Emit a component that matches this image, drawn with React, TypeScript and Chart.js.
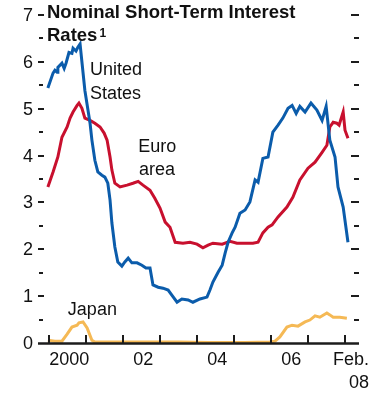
import { useEffect, useRef } from 'react';
import { Chart, registerables } from 'chart.js';

Chart.register(...registerables);

// ---- Data (decimal years, percent) ----
const usYears = [
  1999.97, 2000.11, 2000.16, 2000.22, 2000.24, 2000.35, 2000.41, 2000.46, 2000.54, 2000.62,
  2000.65, 2000.73, 2000.78, 2000.84, 2000.97, 2001.11, 2001.16, 2001.24, 2001.32, 2001.43,
  2001.51, 2001.59, 2001.65, 2001.70, 2001.78, 2001.86, 2001.97, 2002.05, 2002.14, 2002.24,
  2002.38, 2002.51, 2002.62, 2002.73, 2002.81, 2002.95, 2003.08, 2003.22, 2003.32, 2003.46,
  2003.59, 2003.76, 2003.89, 2004.08, 2004.27, 2004.35, 2004.43, 2004.57, 2004.68, 2004.76,
  2004.84, 2004.95, 2005.03, 2005.16, 2005.30, 2005.43, 2005.57, 2005.65, 2005.78, 2005.92,
  2006.05, 2006.19, 2006.32, 2006.46, 2006.57, 2006.68, 2006.78, 2006.92, 2007.08, 2007.24,
  2007.38, 2007.49, 2007.59, 2007.73, 2007.81, 2007.95, 2008.08,
];
const usRates = [
  5.44, 5.76, 5.82, 5.78, 5.88, 5.97, 5.86, 5.97, 6.20, 6.18,
  6.29, 6.23, 6.31, 6.38, 5.39, 4.69, 4.33, 3.90, 3.65, 3.58,
  3.54, 3.41, 3.05, 2.56, 2.05, 1.73, 1.64, 1.73, 1.81, 1.71,
  1.71, 1.66, 1.60, 1.60, 1.24, 1.19, 1.17, 1.13, 1.02, 0.87,
  0.94, 0.92, 0.87, 0.94, 0.98, 1.13, 1.30, 1.51, 1.66, 1.92,
  2.15, 2.35, 2.47, 2.77, 2.84, 3.01, 3.48, 3.43, 3.94, 3.97,
  4.50, 4.65, 4.80, 5.01, 5.07, 4.90, 5.05, 4.93, 5.12, 4.97,
  4.75, 5.05, 4.33, 3.97, 3.33, 2.90, 2.15,
];

const euroYears = [
  1999.97, 2000.11, 2000.24, 2000.35, 2000.49, 2000.57, 2000.65, 2000.76, 2000.81, 2000.89,
  2000.97, 2001.11, 2001.24, 2001.38, 2001.49, 2001.57, 2001.65, 2001.70, 2001.78, 2001.92,
  2002.11, 2002.27, 2002.41, 2002.54, 2002.73, 2002.86, 2003.00, 2003.14, 2003.27, 2003.41,
  2003.62, 2003.81, 2004.00, 2004.16, 2004.30, 2004.43, 2004.68, 2004.89, 2005.08, 2005.35,
  2005.51, 2005.65, 2005.78, 2005.92, 2006.03, 2006.19, 2006.43, 2006.59, 2006.78, 2007.00,
  2007.19, 2007.38, 2007.51, 2007.59, 2007.68, 2007.78, 2007.84, 2007.95, 2008.00, 2008.08,
];
const euroRates = [
  3.33, 3.65, 3.97, 4.39, 4.61, 4.80, 4.93, 5.07, 5.12, 5.01,
  4.80, 4.75, 4.69, 4.61, 4.48, 4.33, 3.97, 3.69, 3.41, 3.33,
  3.37, 3.41, 3.45, 3.37, 3.26, 3.09, 2.88, 2.58, 2.47, 2.15,
  2.13, 2.15, 2.11, 2.03, 2.09, 2.13, 2.11, 2.17, 2.13, 2.13,
  2.13, 2.15, 2.35, 2.47, 2.52, 2.69, 2.90, 3.11, 3.48, 3.73,
  3.86, 4.07, 4.22, 4.61, 4.71, 4.69, 4.65, 4.93, 4.54, 4.37,
];

const japanYears = [
  1999.97, 2000.16, 2000.35, 2000.49, 2000.62, 2000.76, 2000.81, 2000.92, 2001.03, 2001.16,
  2001.24, 2001.92, 2002.73, 2003.50, 2004.30, 2005.30, 2005.97, 2006.11, 2006.24, 2006.43,
  2006.57, 2006.73, 2006.92, 2007.05, 2007.19, 2007.32, 2007.51, 2007.59, 2007.68, 2007.86,
  2008.05,
];
const japanRates = [
  0.06, 0.04, 0.04, 0.19, 0.34, 0.38, 0.43, 0.45, 0.32, 0.06,
  0.02, 0.02, 0.02, 0.02, 0.01, 0.01, 0.02, 0.04, 0.13, 0.34,
  0.38, 0.36, 0.45, 0.49, 0.58, 0.55, 0.64, 0.60, 0.55, 0.55,
  0.53,
];

const yMajorTicks = [1, 2, 3, 4, 5, 6, 7];
const yMinorTicks = [0.5, 1.5, 2.5, 3.5, 4.5, 5.5, 6.5];
const yLabels = ['0', '1', '2', '3', '4', '5', '6', '7'];
const xTickYears = [2000, 2001, 2002, 2003, 2004, 2005, 2006, 2007, 2008];
const xLabelYears = [2000, 2002, 2004, 2006];
const xLabels = ['2000', '02', '04', '06'];
const lastLabel = ['Feb.', '08'];

const titleLines = ['Nominal Short-Term Interest', 'Rates'];
const titleNote = '1';

const seriesNames = ['United States', 'Euro area', 'Japan'];
const FONT = '"Liberation Sans", Arial, sans-serif';

const decorPlugin = {
  id: 'decor',
  afterDatasetsDraw(chart: any) {
    const { ctx, chartArea, scales } = chart;
    const xs = scales.x;
    const ys = scales.y;
    const left = chartArea.left;
    const right = chartArea.right;
    const y0 = ys.getPixelForValue(0);
    ctx.save();

    // bottom axis line
    ctx.strokeStyle = '#1c1c1c';
    ctx.lineWidth = 2.5;
    ctx.beginPath();
    ctx.moveTo(left, y0 + 0.5);
    ctx.lineTo(right, y0 + 0.5);
    ctx.stroke();

    // x ticks (upward)
    ctx.lineWidth = 2;
    xTickYears.forEach((yr) => {
      const px = Math.round(xs.getPixelForValue(yr));
      ctx.beginPath();
      ctx.moveTo(px, y0);
      ctx.lineTo(px, y0 - 8);
      ctx.stroke();
    });

    // y ticks (inward, both sides)
    yMajorTicks.forEach((v) => {
      const py = Math.round(ys.getPixelForValue(v));
      ctx.beginPath();
      ctx.moveTo(left, py);
      ctx.lineTo(left + 6, py);
      ctx.moveTo(right - 8, py);
      ctx.lineTo(right, py);
      ctx.stroke();
    });
    yMinorTicks.forEach((v) => {
      const py = Math.round(ys.getPixelForValue(v));
      ctx.beginPath();
      ctx.moveTo(left + 1, py);
      ctx.lineTo(left + 5, py);
      ctx.moveTo(right - 5, py);
      ctx.lineTo(right, py);
      ctx.stroke();
    });

    // y labels
    ctx.fillStyle = '#111';
    ctx.font = `18px ${FONT}`;
    ctx.textAlign = 'right';
    ctx.textBaseline = 'middle';
    yLabels.forEach((lab, i) => {
      ctx.fillText(lab, left - 5, ys.getPixelForValue(i) + 1);
    });

    // x labels
    ctx.textAlign = 'center';
    ctx.textBaseline = 'alphabetic';
    xLabelYears.forEach((yr, i) => {
      ctx.fillText(xLabels[i], xs.getPixelForValue(yr + 0.55), y0 + 22);
    });
    ctx.textAlign = 'right';
    ctx.fillText(lastLabel[0], right + 10, y0 + 22);
    ctx.fillText(lastLabel[1], right + 10, y0 + 45);

    // title
    ctx.textAlign = 'left';
    ctx.font = `bold 18.5px ${FONT}`;
    ctx.fillText(titleLines[0], 47, 18);
    ctx.fillText(titleLines[1], 47, 41);
    const w = ctx.measureText(titleLines[1]).width;
    ctx.font = `bold 12px ${FONT}`;
    ctx.fillText(titleNote, 47 + w + 2, 37);

    // series annotations
    ctx.font = `18px ${FONT}`;
    ctx.fillStyle = '#111';
    const us = seriesNames[0].split(' ');
    ctx.fillText(us[0], xs.getPixelForValue(2001.11), ys.getPixelForValue(5.71));
    ctx.fillText(us[1], xs.getPixelForValue(2001.11), ys.getPixelForValue(5.20));
    const eu = seriesNames[1].split(' ');
    ctx.fillText(eu[0], xs.getPixelForValue(2002.41), ys.getPixelForValue(4.07));
    ctx.fillText(eu[1], xs.getPixelForValue(2002.43), ys.getPixelForValue(3.58));
    ctx.fillText(seriesNames[2], xs.getPixelForValue(2000.51), ys.getPixelForValue(0.6));

    ctx.restore();
  },
};

const toPoints = (xsArr: number[], ysArr: number[]) => xsArr.map((x, i) => ({ x, y: ysArr[i] }));

export default function App() {
  const canvasRef = useRef<HTMLCanvasElement | null>(null);

  useEffect(() => {
    document.body.style.margin = '0';
    const canvas = canvasRef.current;
    if (!canvas) return;
    const chart = new Chart(canvas, {
      type: 'line',
      data: {
        datasets: [
          {
            label: seriesNames[0],
            data: toPoints(usYears, usRates),
            borderColor: '#0b5cab',
            borderWidth: 3,
            pointRadius: 0,
            tension: 0,
          },
          {
            label: seriesNames[1],
            data: toPoints(euroYears, euroRates),
            borderColor: '#c8102e',
            borderWidth: 3,
            pointRadius: 0,
            tension: 0,
          },
          {
            label: seriesNames[2],
            data: toPoints(japanYears, japanRates),
            borderColor: '#f5b955',
            borderWidth: 3,
            pointRadius: 0,
            tension: 0,
          },
        ],
      },
      options: {
        responsive: false,
        animation: false,
        devicePixelRatio: 1,
        layout: { padding: { left: 38, right: 24, top: 15, bottom: 59 } },
        plugins: { legend: { display: false }, tooltip: { enabled: false }, title: { display: false } },
        scales: {
          x: { type: 'linear', min: 1999.703, max: 2008.378, display: false },
          y: { type: 'linear', min: 0, max: 7, display: false },
        },
      },
      plugins: [decorPlugin],
    });
    return () => chart.destroy();
  }, []);

  return (
    <div style={{ position: 'absolute', left: 0, top: 0, width: 383, height: 402, background: '#fff' }}>
      <canvas ref={canvasRef} width={383} height={402} />
    </div>
  );
}
